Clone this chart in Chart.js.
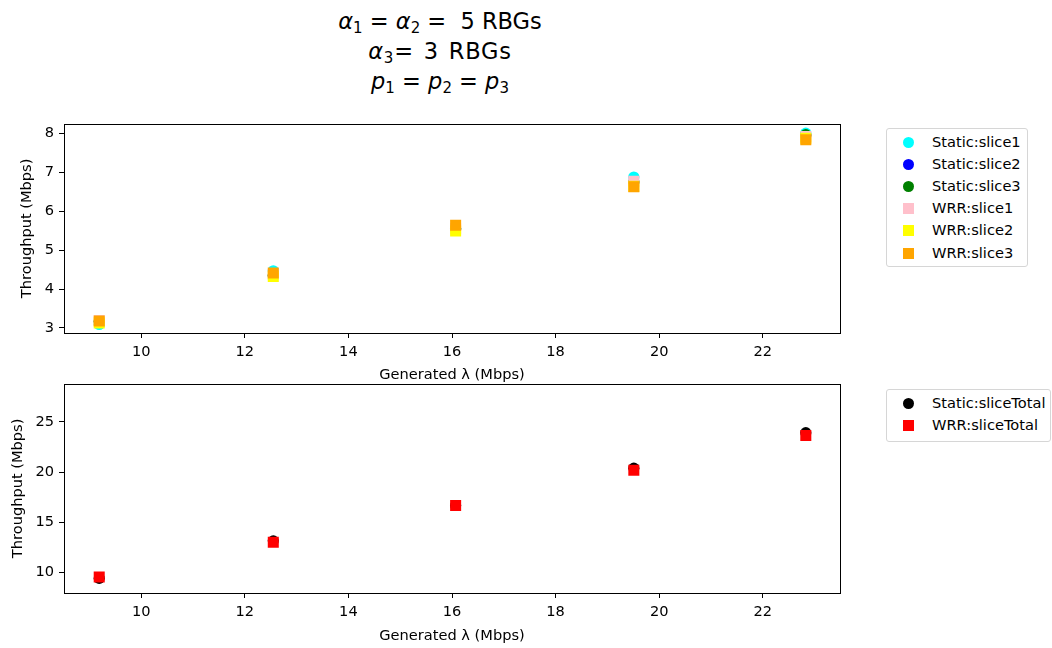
<!DOCTYPE html>
<html>
<head>
<meta charset="utf-8">
<title>Throughput vs generated load</title>
<script src="https://cdn.jsdelivr.net/npm/chart.js"></script>
<style>
  body { margin: 0; background: #fff; font-family: 'DejaVu Sans', sans-serif; color: #000; }
  #wrap { position: relative; width: 1052px; height: 648px; overflow: hidden; }
  canvas { position: absolute; left: 0; }
  #title { position: absolute; left: 240px; width: 400px; top: 6px; text-align: center; font-size: 22.5px; line-height: 30px; }
  #title sub { font-size: 15px; vertical-align: -4px; line-height: 0; }
  #title .wide { letter-spacing: 0.8px; word-spacing: 2px; }
  .legend { position: absolute; border: 1px solid #d6d6d6; border-radius: 3px; font-size: 14.6px; box-sizing: border-box; }
  .legend .row { position: absolute; left: 0; height: 22px; line-height: 22px; white-space: nowrap; }
  .legend .mk { position: absolute; left: 16px; top: 6px; width: 11px; height: 11px; }
  .legend .mk.circle { border-radius: 50%; }
  .legend .txt { position: absolute; left: 45px; top: 0; }
</style>
</head>
<body>
<div id="wrap">
  <div id="title">
    <div><i>α</i><sub>1</sub> = <i>α</i><sub>2</sub> = &nbsp;5 RBGs</div>
    <div class="wide"><i>α</i><sub>3</sub>= 3 RBGs</div>
    <div><i>p</i><sub>1</sub> = <i>p</i><sub>2</sub> = <i>p</i><sub>3</sub></div>
  </div>
  <canvas id="top" width="860" height="276" style="top:110px"></canvas>
  <canvas id="bottom" width="860" height="278" style="top:370px"></canvas>
  <div id="legendTop" class="legend" style="left:886px; top:128px; width:142px; height:139px"></div>
  <div id="legendBottom" class="legend" style="left:886px; top:389px; width:165px; height:53px"></div>
</div>
<script>
// generated load (Mbps)
const lambda = [9.19, 12.55, 16.07, 19.51, 22.83];
const xTicks = [10, 12, 14, 16, 18, 20, 22];

// per-slice throughput (Mbps)
const staticSlice1 = [3.09, 4.47, 5.55, 6.88, 8.01];
const staticSlice2 = [3.17, 4.35, 5.55, 6.75, 7.95];
const staticSlice3 = [3.17, 4.35, 5.55, 6.75, 7.97];
const wrrSlice1 = [3.19, 4.38, 5.55, 6.77, 7.92];
const wrrSlice2 = [3.13, 4.32, 5.49, 6.64, 7.88];
const wrrSlice3 = [3.18, 4.41, 5.64, 6.63, 7.84];
const topTicks = [3, 4, 5, 6, 7, 8];

// total throughput (Mbps)
const staticTotal = [9.43, 13.16, 16.68, 20.40, 23.93];
const wrrTotal = [9.57, 13.03, 16.68, 20.18, 23.66];
const bottomTicks = [10, 15, 20, 25];

Chart.defaults.font.family = 'DejaVu Sans';
Chart.defaults.font.size = 14.6;
Chart.defaults.color = '#000';

const pts = ys => ys.map((y, i) => ({ x: lambda[i], y }));

function ds(label, ys, color, shape) {
  return {
    label, data: pts(ys),
    backgroundColor: color, borderColor: color, borderWidth: 0,
    pointStyle: shape, pointRadius: shape === 'rect' ? 7.8 : 5.6
  };
}

const topSets = [
  ds('Static:slice1', staticSlice1, 'cyan', 'circle'),
  ds('Static:slice2', staticSlice2, 'blue', 'circle'),
  ds('Static:slice3', staticSlice3, 'green', 'circle'),
  ds('WRR:slice1', wrrSlice1, 'pink', 'rect'),
  ds('WRR:slice2', wrrSlice2, 'yellow', 'rect'),
  ds('WRR:slice3', wrrSlice3, 'orange', 'rect')
];
const bottomSets = [
  ds('Static:sliceTotal', staticTotal, 'black', 'circle'),
  ds('WRR:sliceTotal', wrrTotal, 'red', 'rect')
];
// later series drawn on top, as in the original
topSets.forEach((d, i) => d.order = topSets.length - i);
bottomSets.forEach((d, i) => d.order = bottomSets.length - i);

const frame = {
  id: 'frame',
  afterDraw(chart) {
    const { ctx, chartArea: a } = chart;
    ctx.save();
    ctx.strokeStyle = '#000';
    ctx.lineWidth = 1;
    ctx.strokeRect(Math.round(a.left) + 0.5, Math.round(a.top) + 0.5,
      Math.round(a.right - a.left), Math.round(a.bottom - a.top));
    ctx.restore();
  }
};

function makeChart(id, sets, yMin, yMax, yTicks, padTop, xH, xTitlePad, yTitlePad) {
  return new Chart(document.getElementById(id), {
    type: 'scatter',
    data: { datasets: sets },
    options: {
      responsive: false, animation: false, devicePixelRatio: 1,
      layout: { padding: { top: padTop, right: 20, left: 0, bottom: 0 } },
      plugins: { legend: { display: false }, tooltip: { enabled: false } },
      scales: {
        x: {
          type: 'linear', min: 8.51, max: 23.49,
          afterBuildTicks: s => { s.ticks = xTicks.map(v => ({ value: v })); },
          afterFit: s => { s.height = xH; },
          grid: { drawOnChartArea: false, drawTicks: true, tickLength: 5, color: '#000' },
          border: { display: false },
          ticks: { padding: 5, color: '#000' },
          title: { display: true, text: 'Generated λ (Mbps)', padding: { top: 0, bottom: xTitlePad } }
        },
        y: {
          type: 'linear', min: yMin, max: yMax,
          afterBuildTicks: s => { s.ticks = yTicks.map(v => ({ value: v })); },
          afterFit: s => { s.width = 64; },
          grid: { drawOnChartArea: false, drawTicks: true, tickLength: 5, color: '#000' },
          border: { display: false },
          ticks: { padding: 5, color: '#000' },
          title: { display: true, text: 'Throughput (Mbps)', padding: { top: yTitlePad, bottom: 0 } }
        }
      }
    },
    plugins: [frame]
  });
}

makeChart('top', topSets, 2.87, 8.25, topTicks, 11, 53, 2, 18);
makeChart('bottom', bottomSets, 7.97, 28.8, bottomTicks, 10, 55, 3, 9);

function buildLegend(id, sets) {
  const box = document.getElementById(id);
  sets.forEach((d, i) => {
    const row = document.createElement('div');
    row.className = 'row';
    row.style.top = (2 + i * 22.1) + 'px';
    const mk = document.createElement('span');
    mk.className = 'mk' + (d.pointStyle === 'circle' ? ' circle' : '');
    mk.style.background = d.backgroundColor;
    const tx = document.createElement('span');
    tx.className = 'txt';
    tx.textContent = d.label;
    row.appendChild(mk);
    row.appendChild(tx);
    box.appendChild(row);
  });
}
buildLegend('legendTop', topSets);
buildLegend('legendBottom', bottomSets);
</script>
</body>
</html>
